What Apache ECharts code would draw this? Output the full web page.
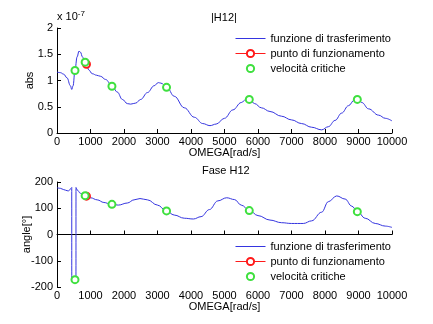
<!DOCTYPE html>
<html><head><meta charset="utf-8">
<script src="https://cdn.jsdelivr.net/npm/echarts@6/dist/echarts.min.js"></script>
<style>html,body{margin:0;padding:0;background:#fff}#c{width:433px;height:324px}</style>
</head><body><div id="c"></div>
<script>
// magnitude |H12| (units of 1e-7)
const magOmega = [0,100,200,300,400,440,480,537,600,657,700,760,826,880,950,1050,1184,1300,1450,1640,1800,1950,2100,2200,2350,2500,2700,2900,3025,3100,3270,3500,3800,4100,4350,4567,4750,5000,5250,5500,5662,5740,5900,6100,6358,6700,7000,7300,7600,7900,8100,8300,8500,8700,8880,8965,9100,9300,9600,9800,10000];
const magVal   = [1.16,1.15,1.12,1.05,0.9,0.83,0.9,1.2,1.45,1.56,1.54,1.45,1.36,1.3,1.2,1.13,1.1,1.08,1.02,0.9,0.78,0.64,0.56,0.55,0.57,0.64,0.77,0.9,0.96,0.95,0.88,0.7,0.48,0.3,0.18,0.14,0.17,0.28,0.44,0.58,0.65,0.64,0.56,0.48,0.41,0.32,0.25,0.18,0.11,0.06,0.12,0.24,0.38,0.52,0.63,0.65,0.58,0.46,0.34,0.28,0.23];
// phase (degrees)
const phOmega = [0,100,200,300,338,380,420,440,441,470,537,566,567,600,700,800,856,1000,1200,1400,1612,1830,2100,2300,2478,2700,3000,3254,3500,3800,4070,4300,4550,4800,5065,5300,5500,5741,6000,6358,6700,7000,7353,7600,7900,8100,8349,8600,8800,8965,9200,9500,9800,10000];
const phVal   = [178,176,171,167,166,170,176,179,-172,-172,-172,-172,179,170,157,150,147,140,132,122,115,112,120,132,137,132,112,91,74,62,59,68,95,128,140,133,112,92,72,55,45,42,42,52,85,125,147,135,108,88,62,42,32,27];
// operating point
const opOmega = [880];
const opMag = [1.31];
const opPh = [146];
// critical speeds
const critOmega = [537,840,1640,3270,5740,8965];
const critMag = [1.19,1.35,0.89,0.87,0.64,0.64];
const critPh = [-172,148,115,90,91,87];
const xTicks = [0,1000,2000,3000,4000,5000,6000,7000,8000,9000,10000];
const magTicks = [0,0.5,1,1.5,2];
const phTicks = [-200,-100,0,100,200];

const names = ['funzione di trasferimento','punto di funzionamento','velocità critiche'];
const zip = (a,b)=>a.map((v,i)=>[v,b[i]]);
const FONT = 'Liberation Sans, Arial, sans-serif';
const tc = '#000';
const BLUE = '#3535e0', RED = '#ff1a1a', GREEN = '#3fe03f';

function xAx(gi){
  return {type:'value',gridIndex:gi,min:xTicks[0],max:xTicks[xTicks.length-1],interval:1000,
    name:'OMEGA[rad/s]',nameLocation:'middle',nameGap:14,
    nameTextStyle:{color:tc,fontSize:11,fontFamily:FONT},
    axisLine:{lineStyle:{color:'#000',width:1}},
    axisTick:{inside:true,length:4,lineStyle:{color:'#000'}},
    axisLabel:{color:tc,fontSize:11,fontFamily:FONT,margin:3,formatter:v=>String(v)},
    splitLine:{show:false}};
}
function yAx(gi,ticks,name,gap){
  return {type:'value',gridIndex:gi,min:ticks[0],max:ticks[ticks.length-1],interval:ticks[1]-ticks[0],
    name:name,nameLocation:'middle',nameGap:gap,nameRotate:90,nameMoveOverlap:false,
    nameTextStyle:{color:tc,fontSize:11,fontFamily:FONT},
    axisLine:{onZero:false,lineStyle:{color:'#000',width:1}},
    axisTick:{inside:true,length:4,lineStyle:{color:'#000'}},
    axisLabel:{color:tc,fontSize:11,fontFamily:FONT,margin:4},
    splitLine:{show:false}};
}
function ser(gi,curve,op,crit){
  return [
    {name:names[0],type:'line',xAxisIndex:gi,yAxisIndex:gi,data:curve,showSymbol:false,symbol:'none',
     smooth:0.4,smoothMonotone:'x',lineStyle:{color:BLUE,width:1},itemStyle:{color:BLUE},animation:false,z:2},
    {name:names[1],type:'line',xAxisIndex:gi,yAxisIndex:gi,data:op,symbol:'emptyCircle',symbolSize:7,
     lineStyle:{color:RED,width:1},itemStyle:{color:RED,borderWidth:1},animation:false,z:3},
    {name:names[2],type:'line',xAxisIndex:gi,yAxisIndex:gi,data:crit,symbol:'emptyCircle',symbolSize:7,
     lineStyle:{width:0,opacity:0},itemStyle:{color:GREEN,borderWidth:1},animation:false,z:4}
  ];
}
function leg(top){
  return {orient:'vertical',left:230,top:top,itemWidth:30,itemHeight:9,itemGap:4,
    lineStyle:{width:1},
    data:[{name:names[0],itemStyle:{opacity:0}},{name:names[1]},{name:names[2]}],
    selectedMode:false,textStyle:{color:tc,fontSize:11,fontFamily:FONT}};
}
const chart = echarts.init(document.getElementById('c'),null,{renderer:'canvas'});
chart.setOption({
  backgroundColor:'#fff',
  animation:false,
  title:[
    {text:'|H12|',left:206,top:7,textStyle:{fontSize:11,fontWeight:'normal',color:tc,fontFamily:FONT}},
    {text:'Fase H12',left:197,top:160,textStyle:{fontSize:11,fontWeight:'normal',color:tc,fontFamily:FONT}}
  ],
  graphic:[{type:'text',left:57,top:10,style:{text:'x 10{s|-7}',rich:{s:{fontSize:8,verticalAlign:'top',padding:[0,0,6,0],fontFamily:FONT}},fontSize:11,fontFamily:FONT,fill:tc}}],
  legend:[leg(28),leg(236)],
  grid:[{left:57,right:41,top:28,height:105},{left:57,right:41,top:182,height:105}],
  xAxis:[xAx(0),xAx(1)],
  yAxis:[yAx(0,magTicks,'abs',22),yAx(1,phTicks,'angle[°]',25)],
  series:[...ser(0,zip(magOmega,magVal),zip(opOmega,opMag),zip(critOmega,critMag)),
          ...ser(1,zip(phOmega,phVal),zip(opOmega,opPh),zip(critOmega,critPh))]
});
</script></body></html>
